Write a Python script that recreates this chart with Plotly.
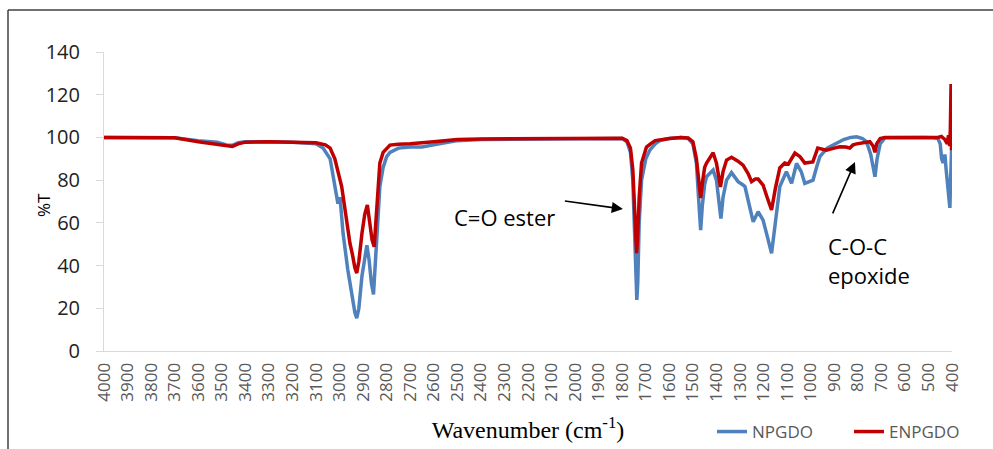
import plotly.graph_objects as go

# ---- data (wavenumber cm-1, %T) ----
npgdo_wn = [4000, 3700, 3600, 3520, 3480, 3455, 3430, 3400, 3300, 3200, 3100, 3070, 3040, 3015, 3007, 2998,
            2985, 2965, 2955, 2945, 2935, 2927, 2918, 2905, 2893, 2884, 2875, 2865, 2856, 2848, 2838, 2829,
            2815, 2800, 2786, 2750, 2700, 2650, 2600, 2500, 2400, 2200, 2000, 1900, 1800, 1780, 1765, 1755,
            1747, 1741, 1738, 1734, 1728, 1718, 1700, 1683, 1660, 1640, 1600, 1550, 1520, 1500, 1485, 1475,
            1467, 1460, 1450, 1442, 1425, 1414, 1400, 1390, 1381, 1372, 1357, 1336, 1320, 1308, 1290, 1279,
            1260, 1244, 1223, 1210, 1202, 1185, 1166, 1150, 1131, 1103, 1090, 1081, 1060, 1040, 1025, 1010,
            990, 975, 961, 930, 904, 860, 830, 805, 780, 763, 745, 735, 727, 718, 705, 685, 600, 520, 480,
            460, 450, 444, 438, 430, 425, 418, 412, 409, 406, 403, 400]
npgdo_t = [100, 99.8, 98.5, 97.8, 96.5, 96.3, 97.5, 98, 98, 97.8, 97, 95, 90, 75, 69, 72,
           55, 38, 31, 25, 18, 15.4, 20, 35, 45, 49.5, 43, 32, 26.5, 40, 62, 77,
           86, 91, 93, 95, 95.5, 95.5, 96.5, 98.5, 99, 99.2, 99.5, 99.6, 99.5, 98, 93, 80,
           55, 30, 23.9, 32, 60, 80, 90, 94, 97, 98.5, 99.5, 100, 99.5, 97, 88, 70,
           56.6, 68, 78, 81.6, 83.5, 84.7, 80, 70, 62, 72, 80, 83.5, 81, 79.3, 78, 77,
           68, 60.5, 65.2, 63, 61.3, 54, 45.7, 60, 77, 84, 81, 78.5, 87.8, 84, 78.5, 79,
           80, 86, 91, 95, 96.4, 99, 100, 100.3, 99.5, 98, 92, 85, 81.6, 90, 97, 99.8, 100, 100, 99.8,
           99.5, 97, 90, 88, 92, 85, 78, 70, 67, 80, 96, 100]

enpgdo_wn = [4000, 3700, 3600, 3520, 3480, 3455, 3430, 3400, 3300, 3200, 3100, 3060, 3040, 3020, 3005, 2991,
             2975, 2960, 2956, 2945, 2935, 2927, 2918, 2905, 2893, 2882, 2872, 2862, 2853, 2845, 2838, 2829,
             2815, 2800, 2786, 2750, 2700, 2600, 2500, 2400, 2200, 2000, 1800, 1780, 1765, 1755, 1747, 1741,
             1739, 1735, 1728, 1718, 1697, 1680, 1660, 1600, 1550, 1520, 1500, 1485, 1475, 1467, 1458, 1450,
             1442, 1425, 1414, 1400, 1390, 1383, 1372, 1357, 1336, 1310, 1287, 1265, 1251, 1235, 1223, 1210,
             1202, 1185, 1166, 1150, 1131, 1110, 1095, 1067, 1045, 1025, 991, 970, 950, 933, 900, 876, 850,
             834, 820, 805, 749, 735, 727, 720, 705, 685, 600, 500, 460, 445, 430, 420, 415, 410, 407, 404,
             402, 400]
enpgdo_t = [100, 99.8, 98, 97, 96.3, 95.8, 97, 97.8, 98, 97.8, 97.5, 96.5, 95, 90, 83, 77,
            65, 52, 50.5, 45, 39, 36.5, 42, 55, 64, 68.4, 60, 52, 48.8, 62, 76, 88,
            93, 95, 96.4, 96.8, 97, 98, 99, 99.3, 99.4, 99.6, 99.6, 98.5, 95, 85, 68, 50,
            45.8, 52, 72, 88, 95.5, 97, 98.5, 99.5, 100, 99.7, 98, 90, 78, 71.6, 80, 86,
            88, 91, 92.8, 88, 80, 76.8, 84, 89.4, 90.7, 89, 87, 83, 79.3, 80.5, 80.5, 79,
            77.7, 72, 66, 76, 85.7, 88, 87.5, 92.7, 91, 88, 88.5, 95, 94.5, 94, 95, 95.6, 95.5,
            95, 96.5, 97, 98, 96, 93, 97, 99.5, 100, 100, 100, 100, 100.5, 99, 97, 101, 96, 104, 125,
            94, 100]

x_ticks = list(range(4000, 399, -100))
y_ticks = [0, 20, 40, 60, 80, 100, 120, 140]

fig = go.Figure()
fig.add_trace(go.Scatter(x=npgdo_wn, y=npgdo_t, mode="lines", name="NPGDO",
                         line=dict(color="#4F81BD", width=3.5)))
fig.add_trace(go.Scatter(x=enpgdo_wn, y=enpgdo_t, mode="lines", name="ENPGDO",
                         line=dict(color="#C00000", width=3.5)))

FONT = "Open Sans"

fig.update_layout(
    width=993, height=449,
    margin=dict(l=104, r=41, t=52, b=98, autoexpand=False),
    paper_bgcolor="white", plot_bgcolor="white",
    font=dict(family=FONT, color="#222"),
    showlegend=True,
    legend=dict(orientation="h", x=(712 - 104) / 848, xanchor="left", y=(351 - 432) / 299,
                yanchor="middle", font=dict(family=FONT, size=17, color="#595959"),
                bgcolor="rgba(0,0,0,0)", entrywidth=92, entrywidthmode="pixels"),
    xaxis=dict(range=[4000, 400], tickmode="array", tickvals=x_ticks,
               ticktext=[str(v) for v in x_ticks], tickangle=-90,
               tickfont=dict(family=FONT, size=17, color="#595959"),
               showgrid=False, zeroline=False, showline=True, linecolor="#D9D9D9", linewidth=1,
               ticks="", ticklabelstandoff=4, automargin=False,
               title=dict(text="Wavenumber (cm<sup>-1</sup>)",
                          font=dict(family="Liberation Serif", size=24, color="#000"),
                          standoff=20)),
    yaxis=dict(range=[0, 140], tickmode="array", tickvals=y_ticks,
               tickfont=dict(family=FONT, size=20, color="#222"),
               showgrid=False, zeroline=False, showline=True, linecolor="#D9D9D9", linewidth=1,
               ticks="outside", ticklen=7, tickcolor="#D9D9D9", ticklabelstandoff=12,
               automargin=False),
)

# y axis title placed like the original
fig.add_annotation(text="%T", xref="paper", yref="paper", x=(43 - 104) / 848, y=(351 - 205) / 299,
                   xanchor="center", yanchor="middle",
                   showarrow=False, textangle=-90, font=dict(family=FONT, size=17, color="#000"))

# C=O ester annotation (arrow tail at text box top-right corner)
fig.add_annotation(text="C=O ester", x=1797, y=66.5, ax=-66, ay=-9, xanchor="right", yanchor="top",
                   showarrow=True, arrowhead=2, arrowsize=1.4, arrowwidth=1.6, arrowcolor="#000",
                   startstandoff=8, font=dict(family=FONT, size=22, color="#000"))

# C-O-C epoxide annotation
fig.add_annotation(text="C-O-C<br>epoxide", align="left", x=812, y=88.5, ax=-29, ay=67,
                   xanchor="left", yanchor="top",
                   showarrow=True, arrowhead=2, arrowsize=1.4, arrowwidth=1.6, arrowcolor="#000",
                   startstandoff=17, font=dict(family=FONT, size=22, color="#000"))

# outer frame (left and top edges visible)
fx0 = (8 - 104) / 848
fy_top = (351 - 10) / 299
fx1 = (995 - 104) / 848
fy_bot = (351 - 452) / 299
fig.add_shape(type="line", xref="paper", yref="paper", x0=fx0, y0=fy_bot, x1=fx0, y1=fy_top,
              line=dict(color="#404040", width=1.5))
fig.add_shape(type="line", xref="paper", yref="paper", x0=fx0, y0=fy_top, x1=fx1, y1=fy_top,
              line=dict(color="#404040", width=1.5))

fig.write_html("out.html")
